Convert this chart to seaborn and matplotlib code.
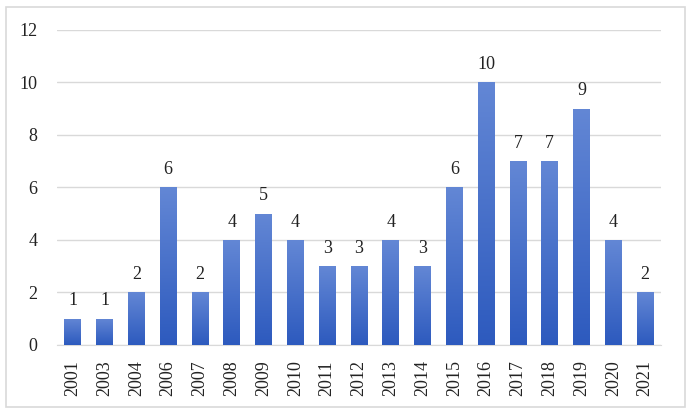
import numpy as np
import pandas as pd
import matplotlib
matplotlib.use("Agg")
import matplotlib.pyplot as plt
from matplotlib.patches import Rectangle
from matplotlib.colors import LinearSegmentedColormap
import seaborn as sns

# data
years = ["2001", "2003", "2004", "2006", "2007", "2008", "2009", "2010", "2011",
         "2012", "2013", "2014", "2015", "2016", "2017", "2018", "2019", "2020", "2021"]
counts = [1, 1, 2, 6, 2, 4, 5, 4, 3, 3, 4, 3, 6, 10, 7, 7, 9, 4, 2]

df = pd.DataFrame({"year": years, "count": counts})

sns.set_style("white")
plt.rcParams["font.family"] = ["Liberation Serif", "DejaVu Serif"]

fig = plt.figure(figsize=(6.93, 4.15), dpi=100)
ax = fig.add_axes([0.082, 0.169, 0.872, 0.759])

sns.barplot(data=df, x="year", y="count", color="#3f6bc9", width=0.53, ax=ax,
            zorder=3, edgecolor="none")

# vertical gradient fill, lighter at the top
grad_cmap = LinearSegmentedColormap.from_list("g", ["#2d5abe", "#6387d5"])
grad = np.linspace(0, 1, 256).reshape(-1, 1)
for bar in ax.patches:
    x0, y0 = bar.get_x(), bar.get_y()
    w, h = bar.get_width(), bar.get_height()
    im = ax.imshow(grad, cmap=grad_cmap, origin="lower", aspect="auto",
                   extent=[x0, x0 + w, y0, y0 + h], zorder=4)
    im.set_clip_path(bar)
    ax.text(x0 + w / 2, h + 0.35, str(int(h)), ha="center", va="bottom",
            fontsize=13, color="#222222", zorder=5)

ax.set_xlim(-0.5, len(years) - 0.5)
ax.set_ylim(0, 12)
ax.set_yticks(range(0, 13, 2))
ax.yaxis.grid(True, color="#d9d9d9", linewidth=1)
ax.set_axisbelow(True)
ax.set_xlabel("")
ax.set_ylabel("")
ax.tick_params(axis="x", labelrotation=90, labelsize=13, length=0, pad=11,
               colors="#222222")
ax.tick_params(axis="y", labelsize=13, length=0, pad=14, colors="#222222")
for side in ["top", "right", "left"]:
    ax.spines[side].set_visible(False)
ax.spines["bottom"].set_color("#d9d9d9")

# light frame around the whole chart
fig.patches.append(Rectangle((0.0087, 0.019), 0.98, 0.963, transform=fig.transFigure,
                             fill=False, edgecolor="#d9d9d9", linewidth=1.2))

fig.savefig("out.png", dpi=100)
